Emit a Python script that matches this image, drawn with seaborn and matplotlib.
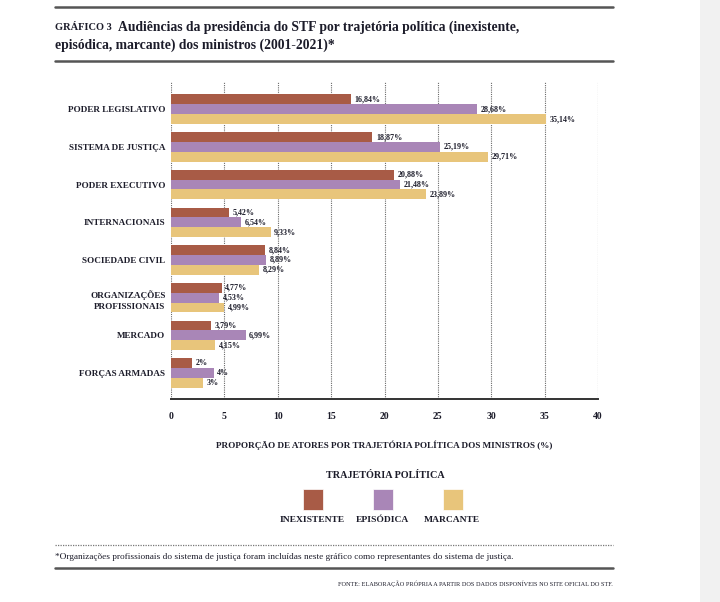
import matplotlib
matplotlib.use("Agg")
import matplotlib.pyplot as plt
from matplotlib.patches import Rectangle
from matplotlib.lines import Line2D
import pandas as pd
import seaborn as sns

categorias = ["PODER LEGISLATIVO", "SISTEMA DE JUSTIÇA", "PODER EXECUTIVO",
              "INTERNACIONAIS", "SOCIEDADE CIVIL", "ORGANIZAÇÕES\nPROFISSIONAIS",
              "MERCADO", "FORÇAS ARMADAS"]
trajetorias = ["INEXISTENTE", "EPISÓDICA", "MARCANTE"]
inexistente = [16.84, 18.87, 20.88, 5.42, 8.84, 4.77, 3.79, 2]
episodica = [28.68, 25.19, 21.48, 6.54, 8.89, 4.53, 6.99, 4]
marcante = [35.14, 29.71, 23.89, 9.33, 8.29, 4.99, 4.15, 3]
cores = ["#A85B46", "#A986B7", "#E8C57B"]
xticks = [0, 5, 10, 15, 20, 25, 30, 35, 40]

FONT = "Liberation Serif"
TXT = "#1c1c2a"

df = pd.DataFrame({
    "categoria": categorias * 3,
    "trajetoria": [t for t in trajetorias for _ in categorias],
    "valor": inexistente + episodica + marcante,
})

sns.set_theme(style="white")
plt.rcParams["font.family"] = [FONT, "DejaVu Serif"]

fig = plt.figure(figsize=(7.2, 6.02), dpi=100)
ax = fig.add_axes([171/720, 1 - 399/602, 427/720, 317/602])

sns.barplot(data=df, x="valor", y="categoria", hue="trajetoria",
            hue_order=trajetorias, order=categorias, palette=cores,
            orient="h", width=0.78, saturation=1, legend=False,
            linewidth=0, ax=ax)

def fmt(v):
    if float(v).is_integer():
        return f"{int(v)}%"
    return f"{v:.2f}".replace(".", ",") + "%"

for cont in ax.containers:
    ax.bar_label(cont, labels=[fmt(b.get_width()) for b in cont], padding=2.5,
                 fontsize=5.8, fontweight="bold", color=TXT)

ax.set_xlim(0, 40)
ax.set_ylim(7.69, -0.72)
ax.set_xticks(xticks)
for x in xticks:
    ax.axvline(x, color="#6b6b6b", lw=0.8, ls=(0, (1, 1)), zorder=0)

for s in ["top", "right", "left"]:
    ax.spines[s].set_visible(False)
ax.spines["bottom"].set_color("#333333")
ax.spines["bottom"].set_linewidth(1.4)
ax.tick_params(axis="x", direction="inout", length=7, width=1, color="#333333",
               labelsize=7, pad=6, labelcolor=TXT)
ax.tick_params(axis="y", length=0, pad=4, labelsize=6.6, labelcolor=TXT)
for lab in ax.get_xticklabels() + ax.get_yticklabels():
    lab.set_fontweight("bold")
for lab in ax.get_yticklabels():
    lab.set_horizontalalignment("right")
    lab.set_multialignment("right")
    lab.set_linespacing(1.6)
ax.set_ylabel("")
ax.set_xlabel("PROPORÇÃO DE ATORES POR TRAJETÓRIA POLÍTICA DOS MINISTROS (%)",
              fontsize=6.6, fontweight="bold", color=TXT, labelpad=14)

def px(x, y):
    return x / 720, 1 - y / 602

# title block
fig.add_artist(Line2D([55/720, 613/720], [1 - 7/602] * 2, color="#555555", lw=1.8))
fig.add_artist(Line2D([55/720, 613/720], [1 - 61/602] * 2, color="#555555", lw=1.8))
fig.text(*px(55, 28), "GRÁFICO 3", fontsize=7.5, fontweight="bold", color=TXT, va="center")
fig.text(*px(118, 27), "Audiências da presidência do STF por trajetória política (inexistente,",
         fontsize=9.8, fontweight="bold", color=TXT, va="center")
fig.text(*px(55, 45), "episódica, marcante) dos ministros (2001-2021)*",
         fontsize=9.8, fontweight="bold", color=TXT, va="center")

# legend
fig.text(*px(385, 475), "TRAJETÓRIA POLÍTICA", fontsize=7.3, fontweight="bold",
         color=TXT, ha="center", va="center")
for cx, lab, c in zip([313, 383, 453], trajetorias, cores):
    x0, y0 = px(cx - 10, 510)
    fig.add_artist(Rectangle((x0, y0), 20/720, 21/602, transform=fig.transFigure,
                             facecolor=c, edgecolor="white", lw=0.5))
    fig.text(*px(cx - 1, 520), lab, fontsize=6.8, fontweight="bold", color=TXT,
             ha="center", va="center")

# footnote and source
fig.add_artist(Line2D([55/720, 613/720], [1 - 545/602] * 2, color="#777777", lw=0.9,
                      ls=(0, (1, 1))))
fig.text(*px(55, 557), "*Organizações profissionais do sistema de justiça foram incluídas neste gráfico como representantes do sistema de justiça.",
         fontsize=6.7, color=TXT, va="center")
fig.add_artist(Line2D([55/720, 613/720], [1 - 568/602] * 2, color="#555555", lw=1.8))
fig.text(*px(613, 584), "FONTE: ELABORAÇÃO PRÓPRIA A PARTIR DOS DADOS DISPONÍVEIS NO SITE OFICIAL DO STF.",
         fontsize=4.5, color=TXT, ha="right", va="center")

# gray strip on the right edge
fig.add_artist(Rectangle((700/720, 0), 20/720, 1, transform=fig.transFigure,
                         facecolor="#f1f1f1", edgecolor="none"))

fig.savefig("out.png", dpi=100)
